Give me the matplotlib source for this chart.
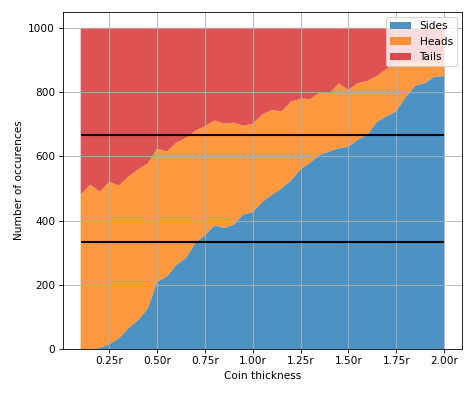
import numpy as np
import matplotlib
matplotlib.use("Agg")
import matplotlib.pyplot as plt
from matplotlib.ticker import FuncFormatter

thickness = [0.10, 0.15, 0.20, 0.25, 0.30, 0.35, 0.40, 0.45, 0.50, 0.55,
             0.60, 0.65, 0.70, 0.75, 0.80, 0.85, 0.90, 0.95, 1.00, 1.05,
             1.10, 1.15, 1.20, 1.25, 1.30, 1.35, 1.40, 1.45, 1.50, 1.55,
             1.60, 1.65, 1.70, 1.75, 1.80, 1.85, 1.90, 1.95, 2.00]

sides = [0, 0, 3, 15, 33, 65, 90, 125, 210, 225,
         262, 283, 330, 355, 385, 377, 387, 419, 426, 458,
         480, 500, 525, 560, 580, 605, 615, 625, 630, 652,
         668, 708, 725, 740, 785, 820, 828, 848, 850]

sides_heads = [481, 512, 490, 521, 509, 538, 559, 578, 624, 615,
               643, 657, 680, 694, 712, 702, 705, 695, 702, 731,
               745, 740, 770, 780, 778, 799, 796, 827, 807, 828,
               835, 851, 872, 890, 892, 893, 895, 895, 897]

total = 1000

x = np.array(thickness)
s = np.array(sides)
h = np.array(sides_heads) - s
t = total - s - h

dpi = 76
fig = plt.figure(figsize=(474 / dpi, 395 / dpi), dpi=dpi)
ax = fig.add_axes([0.132, 0.1165, 0.843, 0.8535])

ax.stackplot(x, s, h, t, labels=["Sides", "Heads", "Tails"],
             colors=["C0", "C1", "C3"], alpha=0.8)
ax.hlines([total / 3, 2 * total / 3], x[0], x[-1], color="black", lw=2)

ax.set_xticks([0.25, 0.5, 0.75, 1.0, 1.25, 1.5, 1.75, 2.0])
ax.xaxis.set_major_formatter(FuncFormatter(lambda v, p: f"{v:.2f}r"))
ax.set_xlim(0.005, 2.095)
ax.set_ylim(0, 1050)
ax.set_xlabel("Coin thickness")
ax.set_ylabel("Number of occurences")
ax.grid(True)
ax.legend(loc="upper right")

fig.savefig("out.png", dpi=dpi)
